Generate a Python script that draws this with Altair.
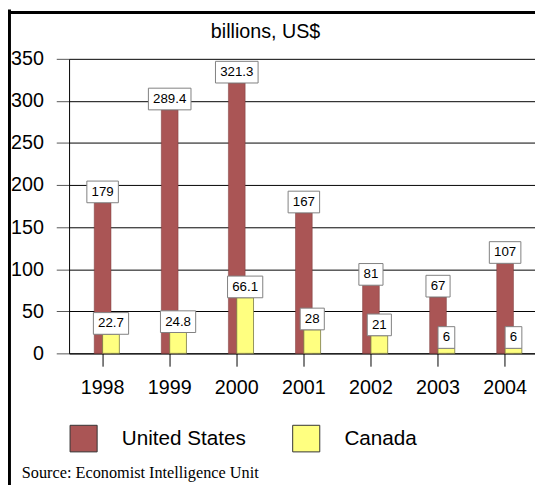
import altair as alt
import pandas as pd

# ---- data ----
years = ["1998", "1999", "2000", "2001", "2002", "2003", "2004"]
us_values = [179, 289.4, 321.3, 167, 81, 67, 107]
canada_values = [22.7, 24.8, 66.1, 28, 21, 6, 6]
series_names = ["United States", "Canada"]
series_colors = ["#AA5555", "#FFFF80"]
y_ticks = [0, 50, 100, 150, 200, 250, 300, 350]
title_text = "billions, US$"
source_text = "Source: Economist Intelligence Unit"

FONT = "Liberation Sans"


def fmt(v):
    return f"{v:g}"


def box_width(s):
    return 7.5 * sum(c.isdigit() for c in s) + 3.75 * s.count(".") + 9.5


rows = []
for name, vals in zip(series_names, [us_values, canada_values]):
    for yr, v in zip(years, vals):
        lab = fmt(v)
        rows.append({"Year": yr, "Series": name, "Value": v,
                     "Label": lab, "BoxW": box_width(lab)})
df = pd.DataFrame(rows)
df_us = df[df.Series == series_names[0]]
df_ca = df[df.Series == series_names[1]]

color_scale = alt.Scale(domain=series_names, range=series_colors)

X = alt.X("Year:N", sort=years,
          scale=alt.Scale(range=[0, 476.7], paddingInner=0, paddingOuter=0),
          axis=alt.Axis(title=None, labelAngle=0, labelFont=FONT, labelFontSize=20,
                        labelColor="black", labelPadding=12, tickSize=13,
                        tickColor="black", domainColor="black", grid=False))
Y = alt.Y("Value:Q", stack=None,
          scale=alt.Scale(domain=[0, 350], nice=False, zero=True),
          axis=alt.Axis(title=None, values=y_ticks, labelFont=FONT, labelFontSize=20,
                        labelColor="black", labelPadding=13, tickSize=13,
                        tickColor="#555555", domainColor="black", grid=True,
                        gridColor="black", gridWidth=1))
C = alt.Color("Series:N", scale=color_scale, legend=None)

bars_us = alt.Chart(df_us).mark_bar(size=17, stroke="#7a3a3a", strokeWidth=0.5).encode(
    x=X, y=Y, color=C)
bars_ca = alt.Chart(df_ca).mark_bar(size=17, xOffset=8.5, stroke="#777744",
                                    strokeWidth=0.8).encode(x=X, y=Y, color=C)

box_us = alt.Chart(df_us).mark_bar(fill="white", stroke="#808080", strokeWidth=1,
                                   yOffset=-22, y2Offset=0).encode(
    x=X, y=Y, y2=alt.Y2("Value:Q"), size=alt.Size("BoxW:Q", scale=None))
box_ca = alt.Chart(df_ca).mark_bar(fill="white", stroke="#808080", strokeWidth=1,
                                   yOffset=-22, y2Offset=0, xOffset=8.5).encode(
    x=X, y=Y, y2=alt.Y2("Value:Q"), size=alt.Size("BoxW:Q", scale=None))

txt_us = alt.Chart(df_us).mark_text(font=FONT, fontSize=13.5, baseline="middle",
                                    dy=-11, color="black").encode(
    x=X, y=Y, text="Label:N")
txt_ca = alt.Chart(df_ca).mark_text(font=FONT, fontSize=13.5, baseline="middle",
                                    dy=-11, dx=8.5, color="black").encode(
    x=X, y=Y, text="Label:N")

one = pd.DataFrame({"k": [0]})

title_layer = alt.Chart(pd.DataFrame({"t": [title_text]})).mark_text(
    font=FONT, fontSize=20, align="center", baseline="alphabetic", color="black").encode(
    text="t:N", x=alt.value(199.5), y=alt.value(-21))

source_layer = alt.Chart(pd.DataFrame({"t": [source_text]})).mark_text(
    font="Liberation Serif", fontSize=16.5, align="left", baseline="alphabetic",
    color="black").encode(text="t:N", x=alt.value(-48), y=alt.value(426))

legend_layers = []
legend_x = [1, 227]
for name, lx in zip(series_names, legend_x):
    d = pd.DataFrame({"Series": [name]})
    legend_layers.append(
        alt.Chart(d).mark_rect(stroke="#333333", strokeWidth=1).encode(
            x=alt.value(lx), x2=alt.value(lx + 27.5),
            y=alt.value(372), y2=alt.value(399), color=C))
    legend_layers.append(
        alt.Chart(d).mark_text(font=FONT, fontSize=21, align="left",
                               baseline="alphabetic", color="black").encode(
            text="Series:N", x=alt.value(lx + 52.5), y=alt.value(392)))

border_left = alt.Chart(one).mark_rule(color="black", strokeWidth=3.5).encode(
    x=alt.value(-60.75), y=alt.value(-50), y2=alt.value(440))
border_top = alt.Chart(one).mark_rule(color="black", strokeWidth=3).encode(
    x=alt.value(-64), x2=alt.value(480), y=alt.value(-47))

chart = alt.layer(
    bars_us, bars_ca, box_us, box_ca, txt_us, txt_ca,
    title_layer, source_layer, *legend_layers, border_left, border_top
).properties(
    width=473, height=299,
    autosize=alt.AutoSizeParams(type="none"),
    padding={"left": 62, "top": 48, "right": 0, "bottom": 130},
    background="white",
).configure_view(stroke=None)

chart.save("out.html", embed_options={"renderer": "svg", "actions": False})
